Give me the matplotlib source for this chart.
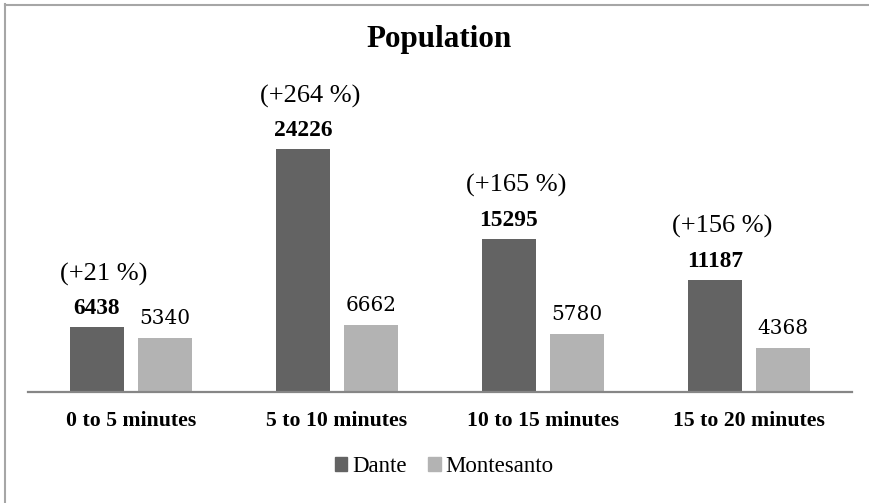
import numpy as np
import matplotlib
matplotlib.use("Agg")
import matplotlib.pyplot as plt
from matplotlib.lines import Line2D
from matplotlib.patches import Patch

categories = ["0 to 5 minutes", "5 to 10 minutes", "10 to 15 minutes", "15 to 20 minutes"]
dante = [6438, 24226, 15295, 11187]
montesanto = [5340, 6662, 5780, 4368]

DARK = "#636363"
LIGHT = "#b3b3b3"
SERIF = "Liberation Serif"
plt.rcParams["font.family"] = [SERIF, "DejaVu Serif"]

W, H = 870, 503
fig = plt.figure(figsize=(W / 100, H / 100), dpi=100)
fig.patch.set_facecolor("white")

# plot area in pixel terms: baseline at y=391.7, left 28, width 824
ax = fig.add_axes([28 / W, (H - 391.7) / H, 824 / W, 291.7 / H])
ax.set_xlim(-0.5, 3.5)
ax.set_ylim(0, 29170)

x = np.arange(len(categories))
width = 0.265
offset = 0.166
ax.bar(x - offset, dante, width, color=DARK, label="Dante", zorder=2)
ax.bar(x + offset, montesanto, width, color=LIGHT, label="Montesanto", zorder=2)

for xi, d, m in zip(x, dante, montesanto):
    ax.annotate(f"{d}", (xi - offset, d), xytext=(0, 13), textcoords="offset pixels",
                ha="center", va="baseline", fontsize=16.8, fontweight="bold")
    ax.annotate(f"(+{round((d / m - 1) * 100)} %)", (xi - offset, d), xytext=(7, 47),
                textcoords="offset pixels", ha="center", va="baseline", fontsize=19)
    ax.annotate(f"{m}", (xi + offset, m), xytext=(0, 14), textcoords="offset pixels",
                ha="center", va="baseline", fontsize=14.4, family="DejaVu Serif")

for side in ["top", "right", "left"]:
    ax.spines[side].set_visible(False)
ax.spines["bottom"].set_color("#868686")
ax.spines["bottom"].set_linewidth(1.6)
ax.set_yticks([])
ax.set_xticks(x)
ax.set_xticklabels(categories, fontsize=15.7, fontweight="bold")
ax.tick_params(axis="x", length=0, pad=14)

fig.text(439.5 / W, 1 - 47 / H, "Population", ha="center", va="baseline",
         fontsize=22.4, fontweight="bold")

handles = [Patch(color=DARK, label="Dante"), Patch(color=LIGHT, label="Montesanto")]
fig.legend(handles=handles, loc="center", bbox_to_anchor=(444 / W, 1 - 467 / H), ncol=2,
           frameon=False, fontsize=16.5,
           handlelength=0.55, handleheight=0.55, handletextpad=0.2, columnspacing=0.95)

# chart border (only top and left are visible in the crop)
fig.add_artist(Line2D([5 / W, 1], [1 - 4.5 / H] * 2, transform=fig.transFigure,
                      color="#a6a6a6", lw=1.5))
fig.add_artist(Line2D([5.5 / W] * 2, [0, 1 - 4 / H], transform=fig.transFigure,
                      color="#a6a6a6", lw=1.5))

fig.savefig("out.png", dpi=100)
